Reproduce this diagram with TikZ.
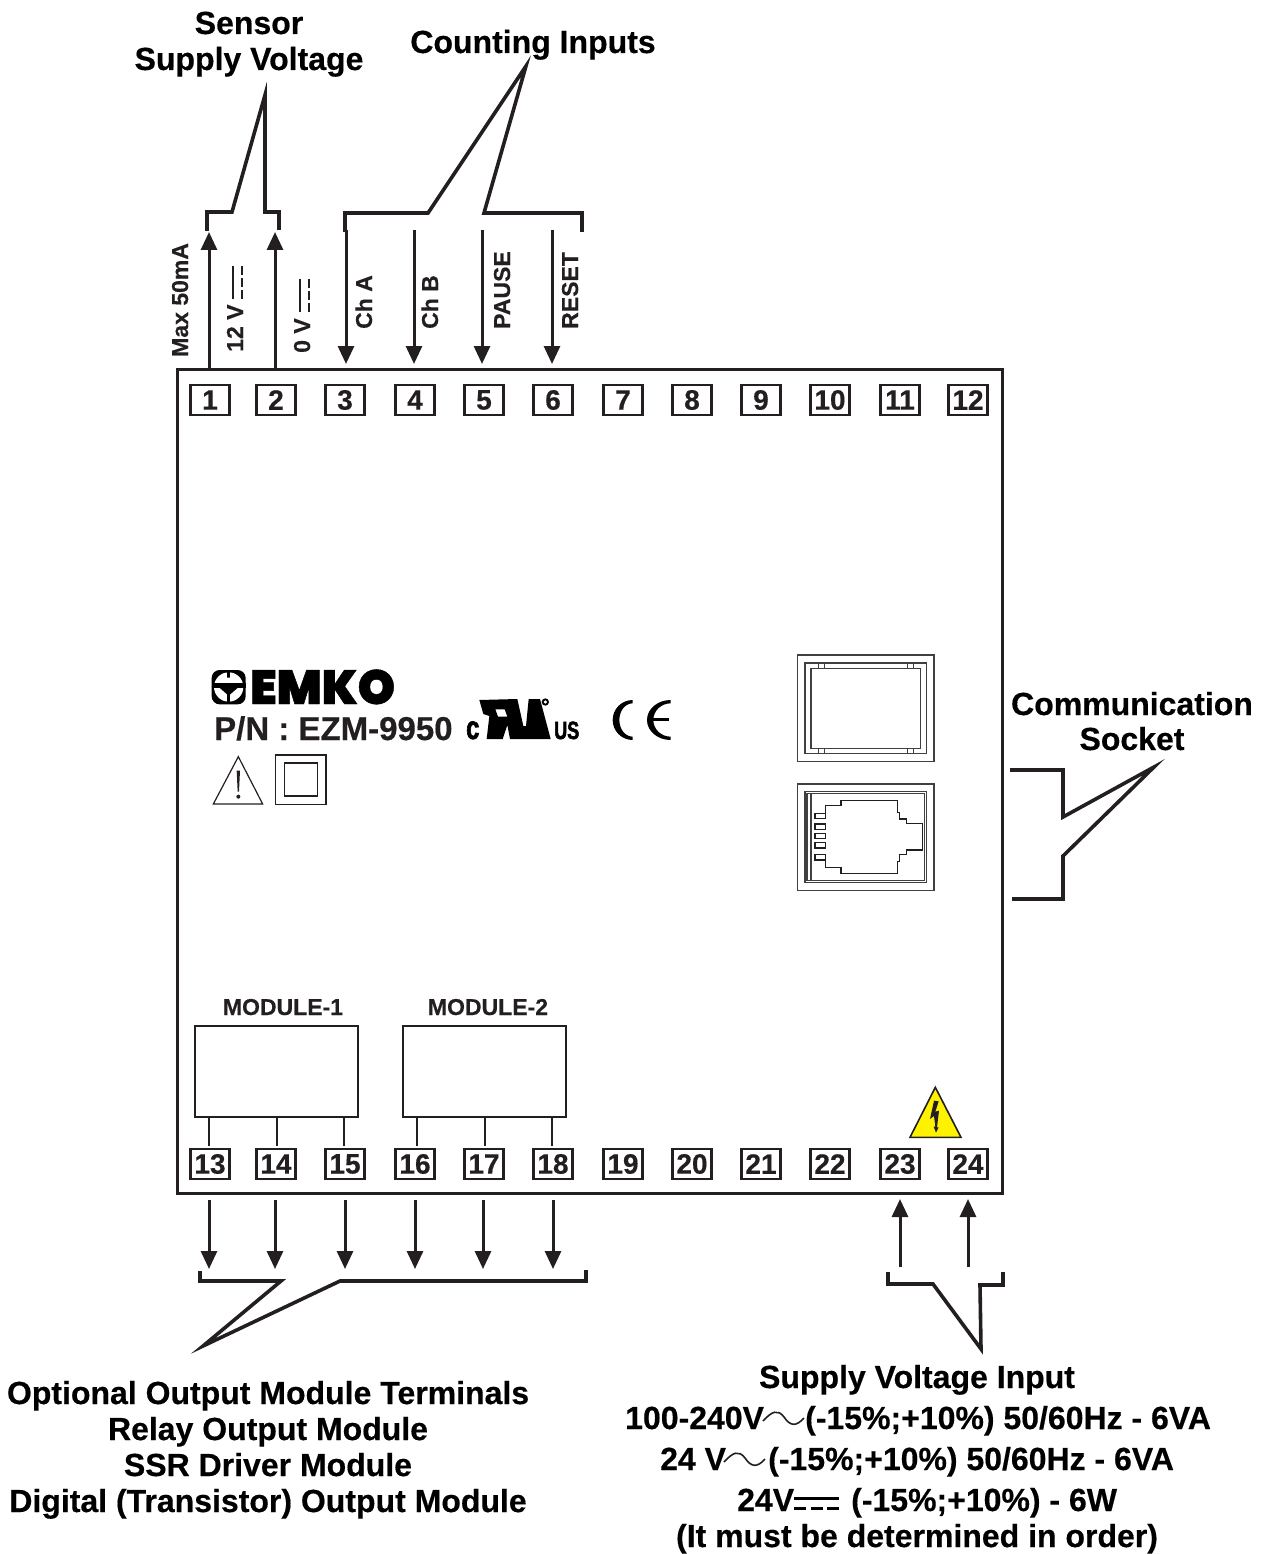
\documentclass[tikz,border=0pt]{standalone}
\usepackage{fontspec}
\setmainfont[BoldFeatures={FakeBold=0.4}]{Liberation Sans}
\usetikzlibrary{arrows.meta}
\newfontfamily\logofont[FakeStretch=0.99,FakeBold=1,UprightFont={* Black}]{Poppins}
\newfontfamily\condfont[FakeStretch=0.72,FakeBold=2,UprightFont={* Bold}]{Liberation Sans}
\definecolor{ink}{HTML}{231F20}
\newcommand{\fs}[1]{\fontsize{#1}{#1}\selectfont\bfseries}
\tikzset{
  x=1pt,y=-1pt,
  term/.style={draw=ink,line width=2.4pt,minimum width=39pt,minimum height=30pt,inner sep=0pt,font=\fs{28},text=ink},
  body/.style={draw=ink,line width=2.6pt,inner sep=0pt,anchor=north west},
  modbox/.style={draw=ink,line width=2.4pt,inner sep=0pt,anchor=north west,minimum width=163pt,minimum height=91pt},
  title/.style={inner sep=0pt,anchor=base,font=\fs{32},text=black},
  sidelab/.style={inner sep=0pt,anchor=base west,rotate=90,font=\fs{23},text=ink},
  modlab/.style={inner sep=0pt,anchor=base,font=\fs{23},text=ink},
  conn/.style={draw=ink,line width=3pt,-{Triangle[length=18pt,width=16pt]}},
  brace/.style={draw=ink,line width=3.6pt,miter limit=20},
  tick/.style={draw=ink,line width=2pt},
  thin/.style={draw=black!75,line width=1.2pt},
  wave/.style={draw=ink,line width=1.6pt},
  dcsolid/.style={draw=ink,line width=2pt},
  dcdash/.style={draw=ink,line width=2pt,dash pattern=on 9pt off 3pt},
  dcsolidw/.style={draw=black,line width=3pt},
  dcdashw/.style={draw=black,line width=3pt,dash pattern=on 12pt off 4.5pt},
}
\begin{document}
\begin{tikzpicture}
\useasboundingbox (0,0) rectangle (1271,1554);
\node[body,minimum width=825pt,minimum height=824pt] (main) at (176,368) {};
% terminals
\foreach \i/\x in {1/210,2/276,3/345,4/415,5/484,6/553,7/623,8/692,9/761,10/830,11/900,12/968}
  \node[term] (t\i) at (\x,400) {\i};
\foreach \i/\x in {13/210,14/276,15/345,16/415,17/484,18/553,19/623,20/692,21/761,22/830,23/900,24/968}
  \node[term] (t\i) at (\x,1164) {\i};
% top connectors
\foreach \n/\x in {a/209,b/275}{
  \coordinate (\n0) at (\x,369); \coordinate (\n1) at (\x,232);
  \draw[conn] (\n0) -- (\n1);}
\foreach \n/\x in {c/346,d/414,e/482,f/552}{
  \coordinate (\n0) at (\x,230); \coordinate (\n1) at (\x,364);
  \draw[conn] (\n0) -- (\n1);}
% bottom connectors
\foreach \n/\x in {g/209,h/275,i/345,j/415,k/483,l/553}{
  \coordinate (\n0) at (\x,1200); \coordinate (\n1) at (\x,1269);
  \draw[conn] (\n0) -- (\n1);}
\foreach \n/\x in {m/900,n/968}{
  \coordinate (\n0) at (\x,1267); \coordinate (\n1) at (\x,1199);
  \draw[conn] (\n0) -- (\n1);}
% callout brackets
\draw[brace] (207,231) -- (207,212) -- (232,212) -- (265,95) -- (265,212) -- (279,212) -- (279,230);
\draw[brace] (345,232) -- (345,213) -- (428,213) -- (526,66) -- (484,213) -- (582,213) -- (582,232);
\draw[brace] (200,1271) -- (200,1281) -- (281,1281) -- (203,1346) -- (340,1281) -- (586,1281) -- (586,1270);
\draw[brace] (888,1272) -- (888,1284) -- (933,1284) -- (981,1349) -- (980,1285) -- (1003,1285) -- (1003,1272);
\draw[brace] (1010,770) -- (1063,770) -- (1063,817) -- (1154,767) -- (1063,856) -- (1063,899) -- (1012,899);
% titles
\node[title] (tsensor) at (249,34) {Sensor};
\node[title] (tsupply) at (249,70) {Supply Voltage};
\node[title] (tcount) at (533,53) {Counting Inputs};
\node[title] (tcomm) at (1132,715) {Communication};
\node[title] (tsock) at (1132,750) {Socket};
\node[title] (o1) at (268,1404) {Optional Output Module Terminals};
\node[title] (o2) at (268,1440) {Relay Output Module};
\node[title] (o3) at (268,1476) {SSR Driver Module};
\node[title] (o4) at (268,1512) {Digital (Transistor) Output Module};
\node[title] (s1) at (917,1388) {Supply Voltage Input};
\node[title,anchor=base west] (s2a) at (625,1429) {100-240V};
\node[title,anchor=base west] (s2b) at (805,1429) {(-15\%;+10\%) 50/60Hz - 6VA};
\node[title,anchor=base west] (s3a) at (660,1470) {24 V};
\node[title,anchor=base west] (s3b) at (768,1470) {(-15\%;+10\%) 50/60Hz - 6VA};
\node[title,anchor=base west] (s4a) at (737,1511) {24V};
\node[title,anchor=base west] (s4b) at (851,1511) {(-15\%;+10\%) - 6W};
\node[title] (s5) at (917,1547) {(It must be determined in order)};
% supply symbols
\draw[wave] (763,1421) .. controls (772,1411) and (778,1409) .. (784,1417) .. controls (790,1426) and (796,1427) .. (804,1418);
\draw[wave] (724,1462) .. controls (733,1452) and (739,1450) .. (745,1458) .. controls (751,1467) and (757,1468) .. (765,1459);
\draw[dcsolidw] (794,1498) -- (839,1498);
\draw[dcdashw] (794,1508) -- (839,1508);
% side labels
\node[sidelab] (lmax) at (188,357) {Max 50mA};
\node[sidelab] (l12) at (243,352) {12 V};
\node[sidelab] (l0) at (310,353) {0 V};
\node[sidelab] (lcha) at (372,329) {Ch A};
\node[sidelab] (lchb) at (438,329) {Ch B};
\node[sidelab] (lpause) at (510,329) {PAUSE};
\node[sidelab] (lreset) at (578,329) {RESET};
\draw[dcsolid] (232.5,299) -- (232.5,266);
\draw[dcdash] (241.5,299) -- (241.5,266);
\draw[dcsolid] (299.5,312) -- (299.5,279);
\draw[dcdash] (308.5,312) -- (308.5,279);
% modules
\node[modbox] (m1) at (194,1025) {};
\node[modbox] (m2) at (402,1025) {};
\node[modlab] (ml1) at (283,1015) {MODULE-1};
\node[modlab] (ml2) at (488,1015) {MODULE-2};
\foreach \x in {209,277,344,417,485,552}
  \draw[tick] (\x,1117) -- (\x,1146);
% hazard triangle
\begin{scope}[shift={(860,1080)},scale=0.33333]
\draw[draw=ink,line width=1.6pt,fill=yellow,line join=miter] (150,172) -- (226,22) -- (303,172) -- cycle;
\fill[ink] (222,62) -- (236,64) -- (226,95) -- (237,92) -- (231,142) -- (236,142) -- (228,158) -- (221,140) -- (226,140) -- (222,108) -- (210,117) -- cycle;
\end{scope}
% sockets
\begin{scope}[shift={(785,645)},scale=0.33333]
\draw[thin] (38,30) rectangle (447,350);
\draw[thin] (60,54) rectangle (424,326);
\draw[thin] (78,70) rectangle (407,310);
\foreach \a/\b in {100/119,367/386}{
  \draw[thin] (\a,54) rectangle (\b,70);
  \draw[thin] (\a,310) rectangle (\b,326);}
\draw[thin] (38,417) rectangle (447,737);
\draw[thin,line width=1.6pt] (60,440) rectangle (424,712);
\draw[thin] (66,446) rectangle (418,706);
\draw[thin,line width=1.6pt] (78,446) -- (78,706);
\draw[thin,line width=1.5pt,draw=ink] (122,505) -- (122,481) -- (168,481) -- (168,467) -- (338,467) -- (338,503) -- (344,503) -- (344,522) -- (364,522) -- (364,535) -- (413,535) -- (413,615) -- (364,615) -- (364,628) -- (344,628) -- (344,650) -- (338,650) -- (338,685) -- (168,685) -- (168,668) -- (122,668) -- (122,645);
\foreach \a/\b in {505/520,537/553,565/581,593/609,628/645}
  \draw[thin,line width=1.5pt,draw=ink] (90,\a) rectangle (122,\b);
\end{scope}
% label block
\node[inner sep=0pt,anchor=base west,font=\fs{33},text=ink] (pn) at (214,740) {P/N : EZM-9950};
\node[inner sep=0pt,anchor=base west,text depth=0pt,font=\logofont\fontsize{48}{48}\selectfont,text=black] (emko) at (250,704) {EMKO};
\node[inner sep=0pt,anchor=base west,font=\condfont\fontsize{33}{33}\selectfont,text=black] (cmark) at (466,739) {c};
\node[inner sep=0pt,anchor=base west,font=\condfont\fontsize{25}{25}\selectfont,text=black] (usmark) at (554,739) {US};
\begin{scope}[shift={(205,665)},scale=0.33333]
\fill[black,rounded corners=8pt] (20,15) rectangle (122,118);
\fill[white] (71,66) circle (44);
\fill[black] (20,55) rectangle (122,68);
\fill[black] (34,60) -- (108,60) -- (71,92) -- cycle;
\fill[black] (67,15) rectangle (75,45);
\fill[black] (67,88) rectangle (75,118);
\fill[white] (56,38) -- (86,38) -- (71,52) -- cycle;
\end{scope}
\begin{scope}[shift={(460,690)},scale=0.33333]
\fill[black,even odd rule] (58,30) -- (172,27) -- (190,108) -- (198,108) -- (206,27) -- (240,27) -- (272,147) -- (150,147) -- (142,105) -- (128,147) -- (80,147) -- (88,78) -- (70,72) -- cycle
  (106,58) -- (134,58) -- (142,80) -- (114,80) -- cycle;
\fill[black] (256,36) circle (11);
\fill[white] (256,36) circle (5);
\fill[black] (518,30) arc[start angle=-90,end angle=-270,radius=60] -- (518,140) arc[start angle=-270,end angle=-90,x radius=40,y radius=50] -- cycle;
\fill[black] (632,30) arc[start angle=-90,end angle=-270,x radius=71,y radius=60] -- (632,140) arc[start angle=-270,end angle=-90,x radius=52,y radius=50] -- cycle;
\draw[black,line width=3pt] (572,89) -- (626,89);
\end{scope}
\begin{scope}[shift={(200,650)},scale=0.33333]
\draw[draw=ink,line width=1.2pt,line join=miter] (40,462) -- (115,320) -- (188,462) -- cycle;
\fill[ink] (110,362) -- (120,362) -- (117,425) -- (113,425) -- cycle;
\fill[ink] (115,440) circle (6);
\draw[draw=ink,line width=1.4pt] (227,315) rectangle (378,463);
\draw[draw=ink,line width=1.4pt] (253,339) rectangle (352,438);
\end{scope}
\end{tikzpicture}
\end{document}
